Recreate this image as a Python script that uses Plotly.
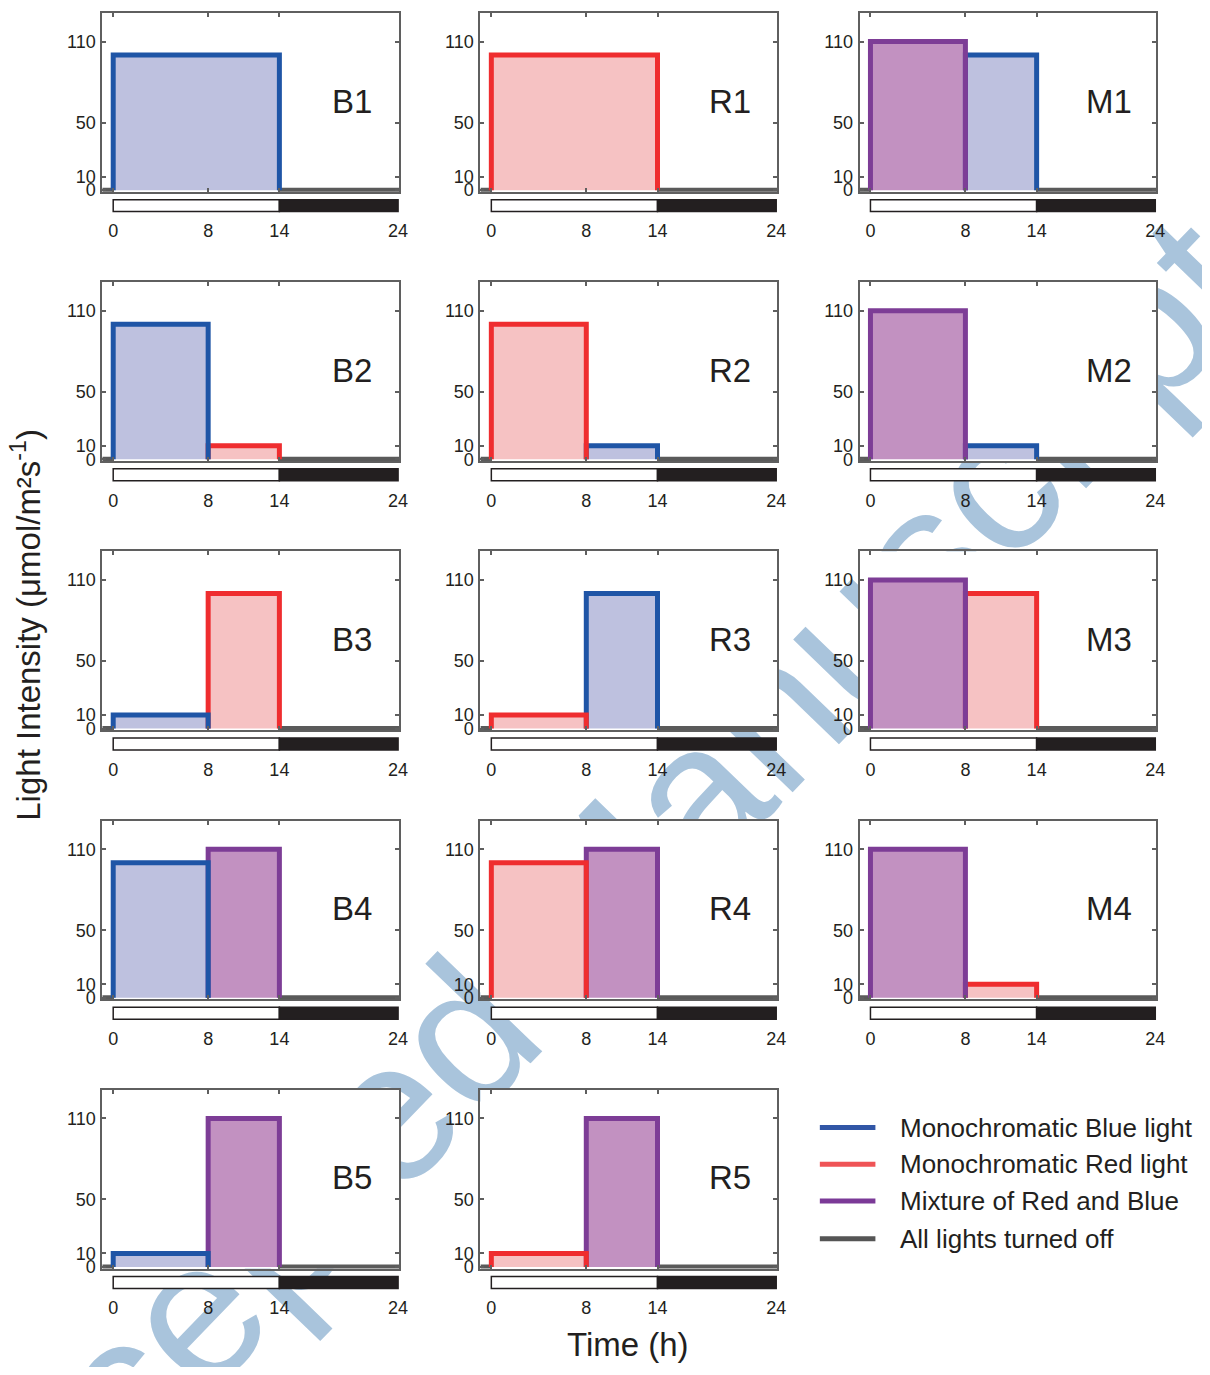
import plotly.graph_objects as go

FONT = "Liberation Sans, Arial, Helvetica, sans-serif"
TXT = "#231f20"
AX = "#5f5f5f"

# ---------------- data ----------------
PANEL_LABELS = ["B1", "R1", "M1",
                "B2", "R2", "M2",
                "B3", "R3", "M3",
                "B4", "R4", "M4",
                "B5", "R5"]
# first light period (starts at lights on)
SEG1_LIGHT = ["blue", "red", "mix", "blue", "red", "mix", "blue", "red", "mix",
              "blue", "red", "mix", "blue", "red"]
SEG1_VALUE = [100, 100, 110, 100, 100, 110, 10, 10, 110, 100, 100, 110, 10, 10]
SEG1_END = [14, 14, 8, 8, 8, 8, 8, 8, 8, 8, 8, 8, 8, 8]
# second light period (ends at lights off)
SEG2_LIGHT = [None, None, "blue", "red", "blue", "blue", "red", "blue", "red",
              "mix", "mix", "red", "mix", "mix"]
SEG2_VALUE = [None, None, 100, 10, 10, 10, 100, 100, 100, 110, 110, 10, 110, 110]
LIGHTS_ON = 0
LIGHTS_OFF = 14
DAY_END = 24
X_TICKS = [0, 8, 14, 24]
Y_TICKS = [0, 10, 50, 110]
LEGEND_KEYS = ["blue", "red", "mix", "off"]
LEGEND_TEXT = ["Monochromatic Blue light", "Monochromatic Red light",
               "Mixture of Red and Blue", "All lights turned off"]

# ---------------- style ----------------
LINE_C = {"blue": "#1f55a6", "red": "#ef2d2f", "mix": "#7d3d96", "off": "#5a5a5a"}
FILL_C = {"blue": "#bec1df", "red": "#f6c2c3", "mix": "#c291c1"}
LEG_C = {"blue": "#3156a6", "red": "#ef5456", "mix": "#7b3a97", "off": "#555555"}

OFF = 8  # page body margin
W, H = 1210 - 2 * OFF, 1375 - 2 * OFF


def px(x):
    return (x - OFF) / W


def py(y):
    return 1 - (y - OFF) / H


COL_L = [103, 484, 866]
PW = 299
ROW_T = [13, 284, 555, 826, 1097]
PH = 180
X_MIN, X_MAX = -0.92, 24.08
Y_MIN, Y_MAX = -1.2, 131.2

fig = go.Figure()
layout = dict(width=W, height=H, margin=dict(l=0, r=0, t=0, b=0),
              paper_bgcolor="white", plot_bgcolor="white", showlegend=False,
              font=dict(family=FONT, color=TXT))

# background watermark subplot (drawn first, hidden behind panel backgrounds)
layout["xaxis"] = dict(domain=[0, 1], range=[0, 1], visible=False, fixedrange=True)
layout["yaxis"] = dict(domain=[0, 1], range=[0, 1], visible=False, fixedrange=True)
WM_X, WM_Y = px(575), py(928)
fig.add_trace(go.Bar(x=[WM_X], y=[0.1], base=[WM_Y - 0.05], width=[0.05],
                     marker=dict(color="rgba(0,0,0,0)", line=dict(width=0)),
                     text=["Accepted Manuscript"], textposition="inside",
                     insidetextanchor="middle", textangle=-46, constraintext="none",
                     textfont=dict(size=200, color="#a9c4dc", family=FONT),
                     cliponaxis=False, hoverinfo="skip", xaxis="x", yaxis="y"))

shapes = []
annotations = []

for i, lab in enumerate(PANEL_LABELS):
    n = i + 2
    r, c = divmod(i, 3)
    x0 = px(COL_L[c])
    x1 = px(COL_L[c] + PW)
    y1 = py(ROW_T[r])
    y0 = py(ROW_T[r] + PH)
    xa, ya = f"x{n}", f"y{n}"

    layout[f"xaxis{n}"] = dict(
        domain=[x0, x1], range=[X_MIN, X_MAX], anchor=ya, tickvals=X_TICKS,
        ticks="inside", ticklen=4, tickwidth=1.5, tickcolor=AX,
        showline=True, linecolor=AX, linewidth=2, mirror="ticks",
        showgrid=False, zeroline=False, fixedrange=True,
        tickfont=dict(size=18, color=TXT, family=FONT), ticklabelstandoff=22)
    layout[f"yaxis{n}"] = dict(
        domain=[y0, y1], range=[Y_MIN, Y_MAX], anchor=xa, tickvals=Y_TICKS,
        ticks="inside", ticklen=4, tickwidth=1.5, tickcolor=AX,
        showline=True, linecolor=AX, linewidth=2, mirror="ticks",
        showgrid=False, zeroline=False, fixedrange=True,
        tickfont=dict(size=18, color=TXT, family=FONT), ticklabelstandoff=1)

    segs = [(SEG1_LIGHT[i], LIGHTS_ON, SEG1_END[i], SEG1_VALUE[i])]
    if SEG2_LIGHT[i] is not None:
        segs.append((SEG2_LIGHT[i], SEG1_END[i], LIGHTS_OFF, SEG2_VALUE[i]))

    # fills
    for light, s, e, v in segs:
        fig.add_trace(go.Scatter(x=[s, s, e, e], y=[0, v, v, 0], mode="lines",
                                 fill="toself", fillcolor=FILL_C[light],
                                 line=dict(width=0), hoverinfo="skip",
                                 xaxis=xa, yaxis=ya))
    # lights-off baseline
    fig.add_trace(go.Scatter(x=[X_MIN, LIGHTS_ON, None, LIGHTS_OFF, X_MAX],
                             y=[0, 0, None, 0, 0], mode="lines",
                             line=dict(color=LINE_C["off"], width=5),
                             hoverinfo="skip", xaxis=xa, yaxis=ya))
    # outlines (first period on top)
    for light, s, e, v in reversed(segs):
        fig.add_trace(go.Scatter(x=[s, s, e, e], y=[0, v, v, 0], mode="lines",
                                 line=dict(color=LINE_C[light], width=5),
                                 hoverinfo="skip", xaxis=xa, yaxis=ya))

    # light / dark bar under the axis
    shapes.append(dict(type="rect", xref=xa, yref=f"{ya} domain",
                       x0=LIGHTS_ON, x1=LIGHTS_OFF, y0=-0.111, y1=-0.044,
                       fillcolor="white", line=dict(color="#231f20", width=1.5),
                       layer="above"))
    shapes.append(dict(type="rect", xref=xa, yref=f"{ya} domain",
                       x0=LIGHTS_OFF, x1=DAY_END, y0=-0.111, y1=-0.044,
                       fillcolor="#231f20", line=dict(color="#231f20", width=1.5),
                       layer="above"))

    annotations.append(dict(text=lab, xref=xa, yref=ya, x=20.1, y=66,
                            showarrow=False,
                            font=dict(size=33, color=TXT, family=FONT)))

# legend (drawn manually)
LEG_Y = [1135, 1172, 1209, 1247]
for k, t, yy in zip(LEGEND_KEYS, LEGEND_TEXT, LEG_Y):
    shapes.append(dict(type="line", xref="paper", yref="paper",
                       x0=px(826), x1=px(882), y0=py(yy), y1=py(yy),
                       line=dict(color=LEG_C[k], width=5)))
    annotations.append(dict(text=t, xref="paper", yref="paper", x=px(905),
                            y=py(yy), xanchor="left", yanchor="middle",
                            showarrow=False,
                            font=dict(size=26, color=TXT, family=FONT)))

# axis titles
annotations.append(dict(text="Light Intensity (μmol/m²s<sup>-1</sup>)",
                        xref="paper", yref="paper", x=px(26), y=py(629),
                        xanchor="center", yanchor="middle",
                        textangle=-90, showarrow=False,
                        font=dict(size=33, color=TXT, family=FONT)))
annotations.append(dict(text="Time (h)", xref="paper", yref="paper",
                        x=px(633), y=py(1353), xanchor="center", yanchor="middle",
                        showarrow=False,
                        font=dict(size=33, color=TXT, family=FONT)))

layout["shapes"] = shapes
layout["annotations"] = annotations
fig.update_layout(**layout)
fig.write_html("out.html")
